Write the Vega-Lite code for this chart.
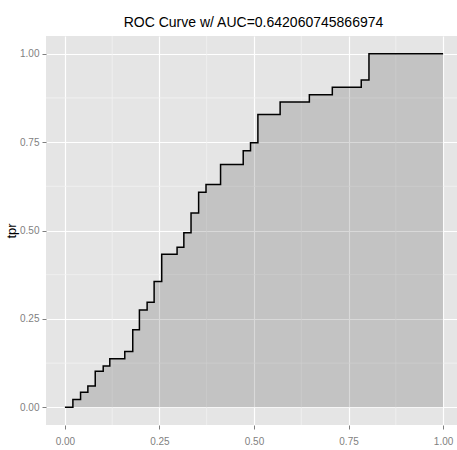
{
  "$schema": "https://vega.github.io/schema/vega-lite/v6.json",
  "autosize": {"type": "none"},
  "padding": {"left": 46, "top": 36, "right": 0, "bottom": 25},
  "width": 411,
  "height": 389,
  "background": "white",
  "title": {
    "text": "ROC Curve w/ AUC=0.642060745866974",
    "font": "Liberation Sans",
    "fontSize": 14,
    "fontWeight": "normal",
    "color": "#000000",
    "anchor": "middle",
    "offset": 6,
    "dx": 2
  },
  "config": {
    "view": {"fill": "#E5E5E5", "stroke": null},
    "axis": {
      "domain": false,
      "gridColor": "#FFFFFF",
      "gridWidth": 1.2,
      "tickColor": "#7F7F7F",
      "tickSize": 4,
      "labelColor": "#7F7F7F",
      "labelFont": "Liberation Sans",
      "labelFontSize": 10,
      "titleFont": "Liberation Sans",
      "titleFontSize": 13,
      "titleFontWeight": "normal",
      "titleColor": "#000000"
    }
  },
  "datasets": {
    "roc": [
      {"fpr": 0.0, "tpr": 0.0},
      {"fpr": 0.0211, "tpr": 0.0218},
      {"fpr": 0.0414, "tpr": 0.0425},
      {"fpr": 0.0607, "tpr": 0.0606},
      {"fpr": 0.0802, "tpr": 0.102},
      {"fpr": 0.1013, "tpr": 0.117},
      {"fpr": 0.1187, "tpr": 0.137},
      {"fpr": 0.1583, "tpr": 0.158},
      {"fpr": 0.1794, "tpr": 0.219},
      {"fpr": 0.197, "tpr": 0.275},
      {"fpr": 0.2174, "tpr": 0.297},
      {"fpr": 0.2359, "tpr": 0.356},
      {"fpr": 0.256, "tpr": 0.4326},
      {"fpr": 0.2966, "tpr": 0.4524},
      {"fpr": 0.3145, "tpr": 0.4935},
      {"fpr": 0.3335, "tpr": 0.5496},
      {"fpr": 0.3536, "tpr": 0.6082},
      {"fpr": 0.3731, "tpr": 0.63},
      {"fpr": 0.4116, "tpr": 0.6867},
      {"fpr": 0.4715, "tpr": 0.7258},
      {"fpr": 0.4908, "tpr": 0.7479},
      {"fpr": 0.5103, "tpr": 0.8283},
      {"fpr": 0.5691, "tpr": 0.8632},
      {"fpr": 0.6464, "tpr": 0.8839},
      {"fpr": 0.7071, "tpr": 0.9048},
      {"fpr": 0.7836, "tpr": 0.9255},
      {"fpr": 0.804, "tpr": 1.0},
      {"fpr": 1.0, "tpr": 1.0}
    ],
    "minor": [
      {"v": 0.125},
      {"v": 0.375},
      {"v": 0.625},
      {"v": 0.875}
    ]
  },
  "layer": [
    {
      "data": {"name": "minor"},
      "mark": {"type": "rule", "color": "#F2F2F2", "strokeWidth": 0.8},
      "encoding": {
        "x": {"field": "v", "type": "quantitative"}
      }
    },
    {
      "data": {"name": "minor"},
      "mark": {"type": "rule", "color": "#F2F2F2", "strokeWidth": 0.8},
      "encoding": {
        "y": {"field": "v", "type": "quantitative"}
      }
    },
    {
      "data": {"name": "roc"},
      "mark": {"type": "area", "interpolate": "step-after", "color": "#000000", "opacity": 0.15},
      "encoding": {
        "x": {"field": "fpr", "type": "quantitative"},
        "y": {"field": "tpr", "type": "quantitative"},
        "y2": {"datum": 0}
      }
    },
    {
      "data": {"name": "roc"},
      "mark": {"type": "line", "interpolate": "step-after", "color": "#000000", "strokeWidth": 1.5},
      "encoding": {
        "x": {
          "field": "fpr",
          "type": "quantitative",
          "scale": {"domain": [-0.05, 1.0368], "nice": false, "zero": false},
          "axis": {"title": null, "values": [0, 0.25, 0.5, 0.75, 1], "format": ".2f", "labelPadding": 7, "labelFlush": false}
        },
        "y": {
          "field": "tpr",
          "type": "quantitative",
          "scale": {"domain": [-0.05, 1.05], "nice": false, "zero": false},
          "axis": {"title": "tpr", "values": [0, 0.25, 0.5, 0.75, 1], "format": ".2f", "labelPadding": 3, "titlePadding": 1, "labelFlush": false}
        }
      }
    }
  ]
}
